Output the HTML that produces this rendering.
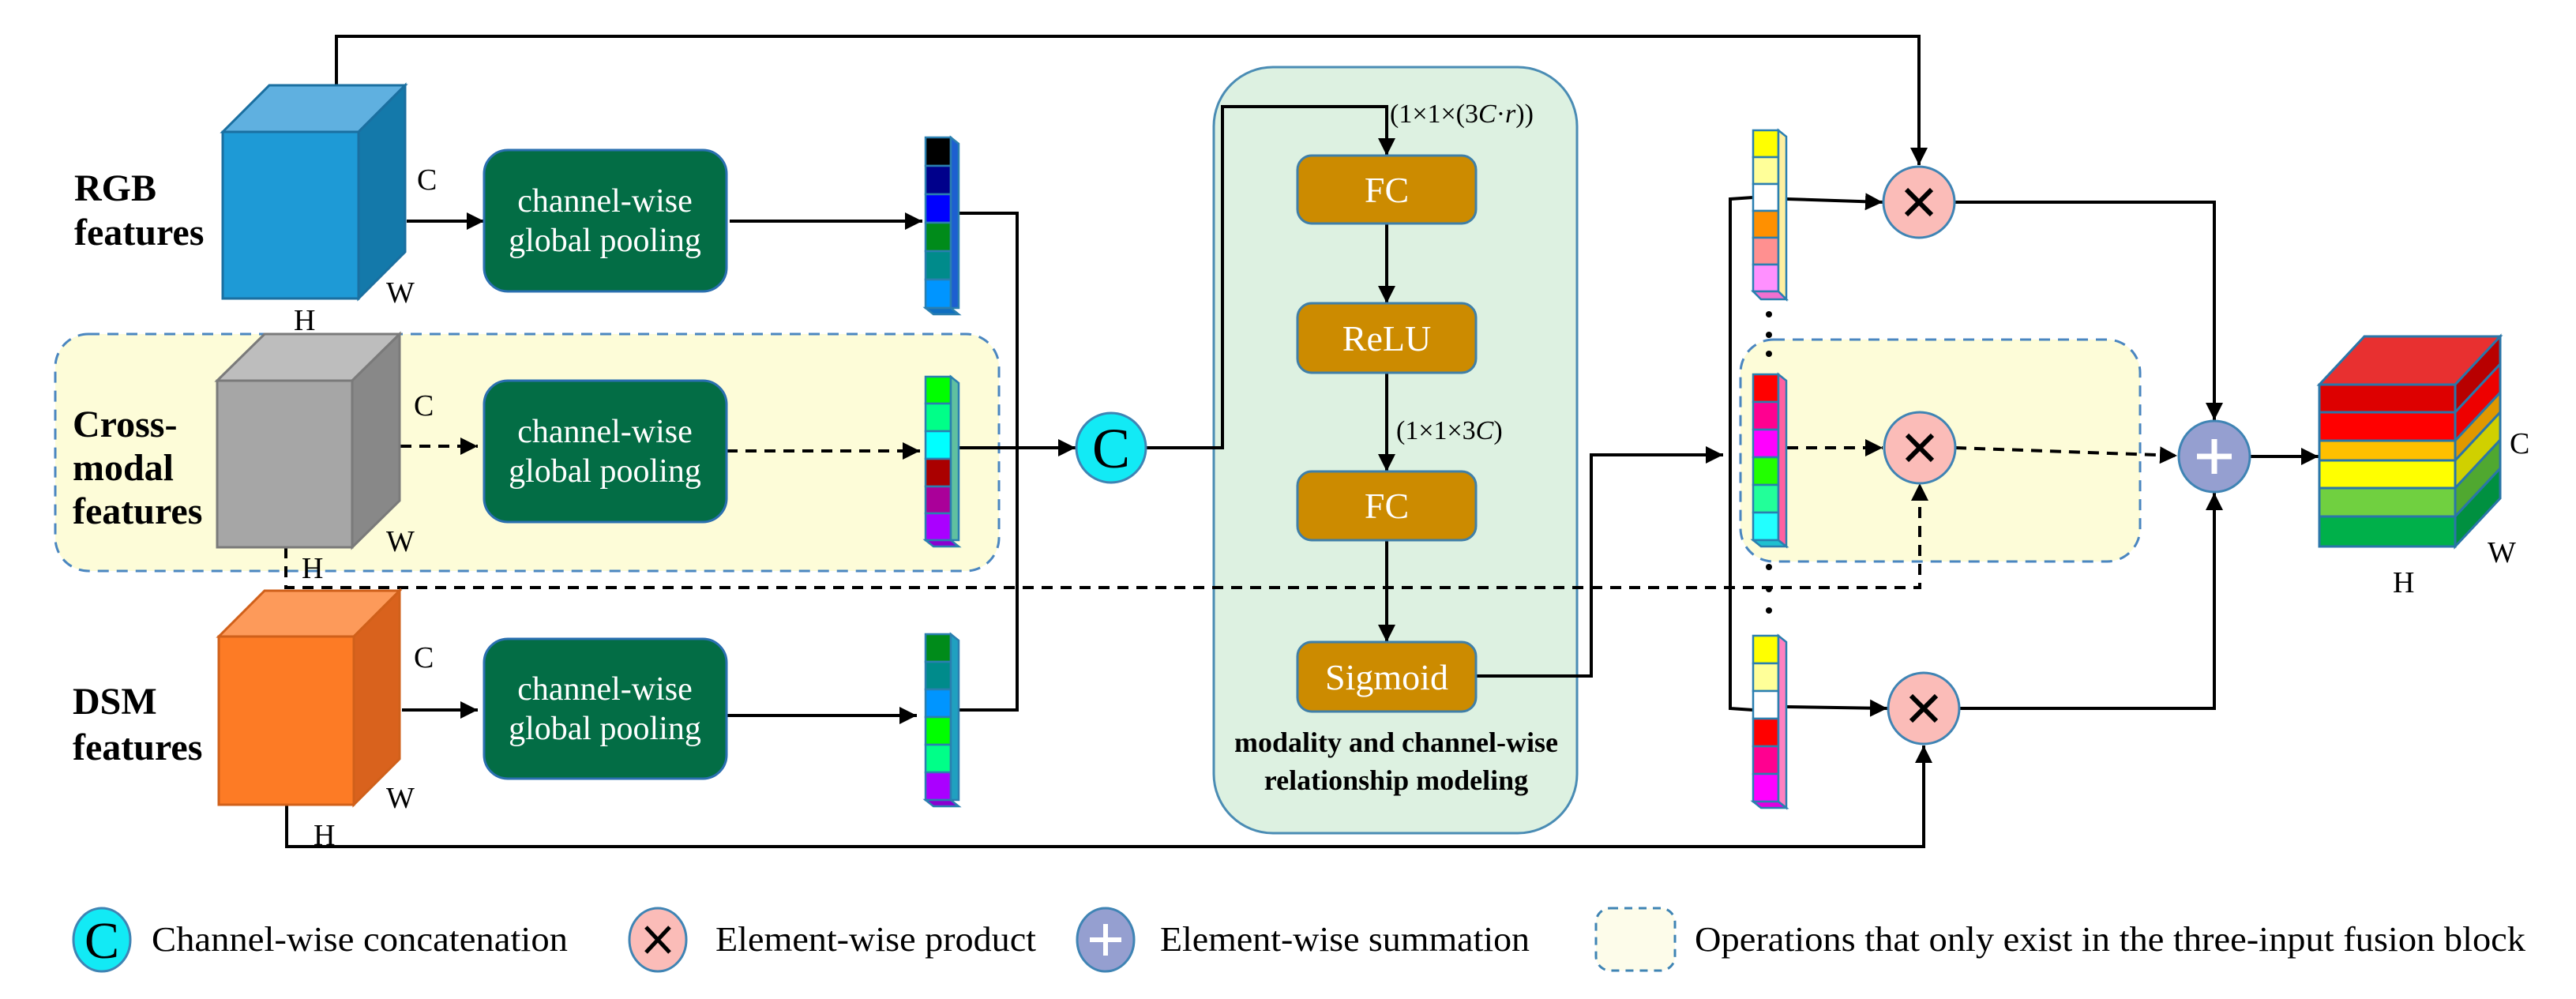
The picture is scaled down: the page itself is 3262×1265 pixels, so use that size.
<!DOCTYPE html>
<html><head><meta charset="utf-8"><style>
html,body{margin:0;padding:0;background:#fff;}
svg{display:block;}
svg text{font-family:"Liberation Serif",serif !important;}
</style></head><body>
<svg width="3262" height="1265" viewBox="0 0 3262 1265" xmlns="http://www.w3.org/2000/svg" font-family="'Liberation Serif', serif">
<defs>
<marker id="a" viewBox="0 0 10 10" refX="10" refY="5" markerWidth="22" markerHeight="22" markerUnits="userSpaceOnUse" orient="auto"><path d="M0,0 L10,5 L0,10 z" fill="#000"/></marker>
</defs>

<rect x="70" y="423" width="1195" height="300" rx="42" fill="#fdfcd8" stroke="#4a86c0" stroke-width="3" stroke-dasharray="14,10"/>
<rect x="1537" y="85" width="460" height="970" rx="75" fill="#ddf1e1" stroke="#4a8cb4" stroke-width="3"/>
<rect x="2204" y="430" width="506" height="281" rx="42" fill="#fdfcd8" stroke="#4a86c0" stroke-width="3" stroke-dasharray="14,10"/>

<g stroke="#000" stroke-width="4" fill="none">
<polyline points="426,108 426,46 2430,46 2430,209" marker-end="url(#a)"/>
<polyline points="363,1019 363,1072 2436,1072 2436,944" marker-end="url(#a)"/>
<line x1="515" y1="280" x2="613" y2="280" marker-end="url(#a)"/>
<line x1="509" y1="899" x2="605" y2="899" marker-end="url(#a)"/>
<line x1="924" y1="280" x2="1168" y2="280" marker-end="url(#a)"/>
<line x1="917" y1="906" x2="1161" y2="906" marker-end="url(#a)"/>
<polyline points="1214,270 1288,270 1288,899 1214,899"/>
<line x1="1214" y1="567" x2="1362" y2="567" marker-end="url(#a)"/>
<polyline points="1451,567 1548,567 1548,135 1756,135 1756,197" marker-end="url(#a)"/>
<line x1="1756" y1="283" x2="1756" y2="384" marker-end="url(#a)"/>
<line x1="1756" y1="472" x2="1756" y2="597" marker-end="url(#a)"/>
<line x1="1756" y1="684" x2="1756" y2="813" marker-end="url(#a)"/>
<polyline points="1869,856 2015,856 2015,576 2182,576" marker-end="url(#a)"/>
<polyline points="2220,250 2191,252 2191,897 2220,899"/>
<line x1="2263" y1="252" x2="2384" y2="256" marker-end="url(#a)"/>
<line x1="2263" y1="895" x2="2390" y2="897" marker-end="url(#a)"/>
<polyline points="2475,256 2804,256 2804,532" marker-end="url(#a)"/>
<polyline points="2481,897 2804,897 2804,624" marker-end="url(#a)"/>
<line x1="2849" y1="578" x2="2936" y2="578" marker-end="url(#a)"/>
</g>
<g stroke="#000" stroke-width="4" fill="none" stroke-dasharray="14,10">
<line x1="507" y1="565" x2="605" y2="565" marker-end="url(#a)"/>
<line x1="920" y1="571" x2="1165" y2="571" marker-end="url(#a)"/>
<polyline points="362,693 362,744 2431,744 2431,612" marker-end="url(#a)"/>
<line x1="2263" y1="567" x2="2384" y2="567" marker-end="url(#a)"/>
<line x1="2476" y1="567" x2="2757" y2="577" marker-end="url(#a)"/>
</g>

<g stroke-width="3">
<rect x="282" y="167" width="172" height="211" fill="#1e9ad6" stroke="#1a6fa0"/>
<polygon points="282,167 341,108 513,108 454,167" fill="#5fb0e0" stroke="#1a6fa0"/>
<polygon points="454,167 513,108 513,319 454,378" fill="#1479aa" stroke="#1a6fa0"/>
<rect x="275" y="482" width="171" height="211" fill="#a6a6a6" stroke="#7a7a7a"/>
<polygon points="275,482 335,423 506,423 446,482" fill="#bdbdbd" stroke="#7a7a7a"/>
<polygon points="446,482 506,423 506,634 446,693" fill="#888" stroke="#7a7a7a"/>
<rect x="277" y="806" width="171" height="213" fill="#fd7b25" stroke="#d0601a"/>
<polygon points="277,806 335,748 506,748 448,806" fill="#fd9a5a" stroke="#d0601a"/>
<polygon points="448,806 506,748 506,961 448,1019" fill="#d9621d" stroke="#d0601a"/>
</g>

<g stroke="#2a76a8" stroke-width="3">
<polygon points="2937,487 2994,426 3166,426 3109,487" fill="#e83030"/>
<rect x="2937" y="487" width="172" height="35" fill="#dd0000"/>
<rect x="2937" y="522" width="172" height="36" fill="#ff0000"/>
<rect x="2937" y="558" width="172" height="25" fill="#ffc000"/>
<rect x="2937" y="583" width="172" height="35" fill="#ffff00"/>
<rect x="2937" y="618" width="172" height="36" fill="#70d040"/>
<rect x="2937" y="654" width="172" height="38" fill="#00b04a"/>
<polygon points="3109,487 3166,426 3166,461 3109,522" fill="#b80000"/>
<polygon points="3109,522 3166,461 3166,497 3109,558" fill="#ee0000"/>
<polygon points="3109,558 3166,497 3166,522 3109,583" fill="#e09800"/>
<polygon points="3109,583 3166,522 3166,557 3109,618" fill="#d0d000"/>
<polygon points="3109,618 3166,557 3166,593 3109,654" fill="#50a830"/>
<polygon points="3109,654 3166,593 3166,631 3109,692" fill="#009040"/>
</g>

<g fill="#036d45" stroke="#2a6fb0" stroke-width="3">
<rect x="613" y="190" width="307" height="179" rx="30"/>
<rect x="613" y="482" width="307" height="179" rx="30"/>
<rect x="613" y="809" width="307" height="177" rx="30"/>
</g>
<g fill="#fff" font-size="42" text-anchor="middle">
<text x="766" y="268">channel-wise</text><text x="766" y="318">global pooling</text>
<text x="766" y="560">channel-wise</text><text x="766" y="610">global pooling</text>
<text x="766" y="886">channel-wise</text><text x="766" y="936">global pooling</text>
</g>

<g fill="#cc8b00" stroke="#3f7fa8" stroke-width="3">
<rect x="1643" y="197" width="226" height="86" rx="18"/>
<rect x="1643" y="384" width="226" height="88" rx="18"/>
<rect x="1643" y="597" width="226" height="87" rx="18"/>
<rect x="1643" y="813" width="226" height="88" rx="18"/>
</g>
<g fill="#fff" font-size="46" text-anchor="middle">
<text x="1756" y="256">FC</text><text x="1756" y="444">ReLU</text>
<text x="1756" y="656">FC</text><text x="1756" y="873">Sigmoid</text>
</g>
<text x="1760" y="155" font-size="34">(1×1×(3<tspan font-style="italic">C</tspan>·<tspan font-style="italic">r</tspan>))</text>
<text x="1768" y="556" font-size="34">(1×1×3<tspan font-style="italic">C</tspan>)</text>
<g font-size="36" font-weight="bold" text-anchor="middle">
<text x="1768" y="952">modality and channel-wise</text>
<text x="1768" y="1000">relationship modeling</text>
</g>

<g stroke="#2a7fb0" stroke-width="2.5">
<g transform="translate(1172,174)">
<rect y="0" width="32" height="36" fill="#000"/><rect y="36" width="32" height="36" fill="#00008b"/><rect y="72" width="32" height="36" fill="#0000ff"/><rect y="108" width="32" height="36" fill="#008b1a"/><rect y="144" width="32" height="36" fill="#008b8b"/><rect y="180" width="32" height="36" fill="#0095ff"/>
<polygon points="32,0 42,8 42,216 32,216" fill="#1d5fd0"/><polygon points="0,216 32,216 42,224 10,224" fill="#0f6fc0"/>
</g>
<g transform="translate(1172,477)">
<rect y="0" width="32" height="34" fill="#00ff00"/><rect y="34" width="32" height="35" fill="#00ff88"/><rect y="69" width="32" height="35" fill="#00ffff"/><rect y="104" width="32" height="35" fill="#aa0000"/><rect y="139" width="32" height="34" fill="#aa0099"/><rect y="173" width="32" height="34" fill="#aa00ff"/>
<polygon points="32,0 42,8 42,207 32,207" fill="#60c0a0"/><polygon points="0,207 32,207 42,215 10,215" fill="#8a00d0"/>
</g>
<g transform="translate(1172,803)">
<rect y="0" width="32" height="35" fill="#008b1a"/><rect y="35" width="32" height="35" fill="#008b8b"/><rect y="70" width="32" height="35" fill="#0095ff"/><rect y="105" width="32" height="35" fill="#00ff00"/><rect y="140" width="32" height="35" fill="#00ff88"/><rect y="175" width="32" height="35" fill="#aa00ff"/>
<polygon points="32,0 42,8 42,210 32,210" fill="#20a0c0"/><polygon points="0,210 32,210 42,218 10,218" fill="#8a00d0"/>
</g>
<g transform="translate(2220,165)">
<rect y="0" width="32" height="34" fill="#ffff00"/><rect y="34" width="32" height="34" fill="#ffff99"/><rect y="68" width="32" height="34" fill="#fff"/><rect y="102" width="32" height="34" fill="#ff9000"/><rect y="136" width="32" height="34" fill="#ff9090"/><rect y="170" width="32" height="34" fill="#ff90ff"/>
<polygon points="32,0 42,8 42,214 32,204" fill="#fff0a0"/><polygon points="0,204 32,204 42,214 10,214" fill="#f070d0"/>
</g>
<g transform="translate(2220,474)">
<rect y="0" width="32" height="35" fill="#ff0000"/><rect y="35" width="32" height="35" fill="#ff0090"/><rect y="70" width="32" height="35" fill="#ff00ff"/><rect y="105" width="32" height="35" fill="#22ff00"/><rect y="140" width="32" height="35" fill="#22ff99"/><rect y="175" width="32" height="35" fill="#22ffff"/>
<polygon points="32,0 42,8 42,218 32,210" fill="#ff60a0"/><polygon points="0,210 32,210 42,218 10,218" fill="#20c0d0"/>
</g>
<g transform="translate(2220,805)">
<rect y="0" width="32" height="35" fill="#ffff00"/><rect y="35" width="32" height="35" fill="#ffff99"/><rect y="70" width="32" height="35" fill="#fff"/><rect y="105" width="32" height="35" fill="#ff0000"/><rect y="140" width="32" height="35" fill="#ff0090"/><rect y="175" width="32" height="35" fill="#ff00ff"/>
<polygon points="32,0 42,8 42,218 32,210" fill="#ff80c0"/><polygon points="0,210 32,210 42,218 10,218" fill="#e000e0"/>
</g>
</g>
<g fill="#000">
<circle cx="2240" cy="398" r="4"/><circle cx="2240" cy="424" r="4"/><circle cx="2240" cy="448" r="4"/>
<circle cx="2240" cy="718" r="4"/><circle cx="2240" cy="746" r="4"/><circle cx="2240" cy="773" r="4"/>
</g>

<g stroke="#3f84b4" stroke-width="3">
<circle cx="1407" cy="567" r="44" fill="#12eaf5"/>
<circle cx="2430" cy="256" r="45" fill="#fbbcb8"/>
<circle cx="2431" cy="567" r="45" fill="#fbbcb8"/>
<circle cx="2436" cy="897" r="45" fill="#fbbcb8"/>
<circle cx="2804" cy="578" r="45" fill="#959fd0"/>
</g>
<text x="1407" y="592" font-size="72" text-anchor="middle">C</text>
<g stroke="#000" stroke-width="6">
<path d="M2414,240 L2446,272 M2446,240 L2414,272"/>
<path d="M2415,551 L2447,583 M2447,551 L2415,583"/>
<path d="M2420,881 L2452,913 M2452,881 L2420,913"/>
</g>
<path d="M2804,556 V600 M2782,578 H2826" stroke="#fff" stroke-width="7"/>

<g font-size="48" font-weight="bold">
<text x="94" y="254">RGB</text><text x="94" y="310">features</text>
<text x="92" y="553">Cross-</text><text x="92" y="608">modal</text><text x="92" y="663">features</text>
<text x="92" y="904">DSM</text><text x="92" y="962">features</text>
</g>
<g font-size="38">
<text x="528" y="240">C</text><text x="489" y="383">W</text><text x="372" y="418">H</text>
<text x="524" y="526">C</text><text x="489" y="698">W</text><text x="382" y="732">H</text>
<text x="524" y="845">C</text><text x="489" y="1023">W</text><text x="397" y="1070">H</text>
<text x="3178" y="574">C</text><text x="3150" y="712">W</text><text x="3030" y="750">H</text>
</g>

<g stroke="#3f84b4" stroke-width="3">
<ellipse cx="129" cy="1190" rx="36" ry="40" fill="#12eaf5"/>
<ellipse cx="833" cy="1190" rx="36" ry="40" fill="#fbbcb8"/>
<ellipse cx="1400" cy="1190" rx="36" ry="40" fill="#959fd0"/>
<rect x="2021" y="1150" width="100" height="79" rx="18" fill="#fdfcea" stroke-dasharray="10,8"/>
</g>
<text x="129" y="1213" font-size="66" text-anchor="middle">C</text>
<path d="M818,1174 L848,1206 M848,1174 L818,1206" stroke="#000" stroke-width="5"/>
<path d="M1400,1170 V1210 M1380,1190 H1420" stroke="#fff" stroke-width="6"/>
<g font-size="44">
<text x="192" y="1204" textLength="527" lengthAdjust="spacingAndGlyphs">Channel-wise concatenation</text>
<text x="906" y="1204" textLength="406" lengthAdjust="spacingAndGlyphs">Element-wise product</text>
<text x="1469" y="1204" textLength="468" lengthAdjust="spacingAndGlyphs">Element-wise summation</text>
<text x="2146" y="1204" textLength="1052" lengthAdjust="spacingAndGlyphs">Operations that only exist in the three-input fusion block</text>
</g>
</svg>
</body></html>
